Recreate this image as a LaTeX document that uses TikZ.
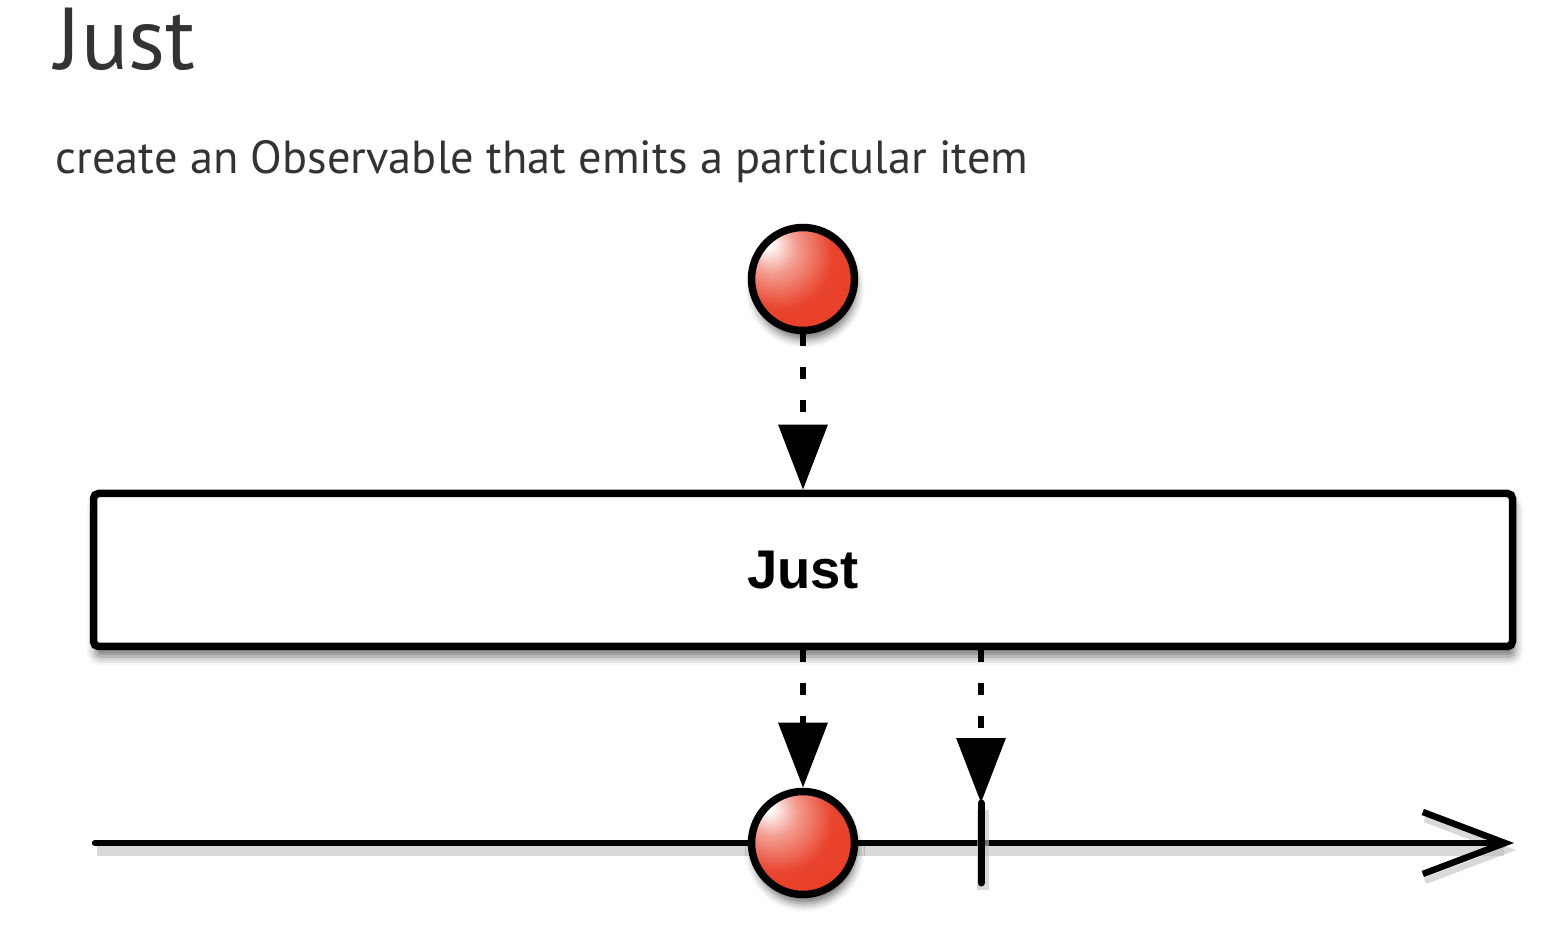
\documentclass[tikz,border=0pt]{standalone}
\usepackage{fontspec}
\setmainfont{PT Sans}
\newfontfamily\opfont{Liberation Sans}
\usepackage{xcolor}
\usetikzlibrary{arrows.meta,positioning,calc,shadows.blur}
\definecolor{ballred}{RGB}{232,58,34}
\definecolor{txtgray}{RGB}{51,51,51}
\pgfdeclareradialshading{marble}{\pgfpoint{-18bp}{18bp}}{%
  color(0bp)=(white); color(2bp)=(white); color(12bp)=(ballred!50!white);
  color(26bp)=(ballred!95!white); color(48bp)=(ballred); color(62bp)=(ballred!80!black); color(74bp)=(ballred!45!black)}

\begin{document}
\begin{tikzpicture}[>=Latex,
  item/.style={circle, draw=black, line width=0.075cm, minimum size=1.03cm, inner sep=0pt,
    shading=marble,
    blur shadow={shadow xshift=0.02cm, shadow yshift=-0.09cm, shadow blur radius=0.08cm, shadow opacity=55}},
  emit/.style={line width=0.065cm, dash pattern=on 0.12cm off 0.21cm,
    -{Triangle[length=0.65cm,width=0.48cm]}},
  lineshadow/.style={preaction={draw=black!25, line width=0.12cm, opacity=0.6,
    transform canvas={xshift=0.02cm,yshift=-0.07cm}}}
]
\useasboundingbox (0,0) rectangle (15.64,9.32);

% title and caption
\node[anchor=base west, inner sep=0pt, text=txtgray, font=\fontsize{25}{28}\selectfont] (title) at (0.55,8.62) {Just};
\node[anchor=base west, inner sep=0pt, text=txtgray, font=\fontsize{13.2}{16}\selectfont] (caption) at (0.55,7.58)
    {create an Observable that emits a particular item};

% operator box
\node[draw, line width=0.075cm, rounded corners=0.05cm, fill=white, minimum width=14.19cm, minimum height=1.53cm,
    blur shadow={shadow xshift=0.02cm, shadow yshift=-0.1cm, shadow blur radius=0.09cm, shadow opacity=55},
    font=\opfont\bfseries\fontsize{15.5}{18}\selectfont] (opbox) at (8.03,3.62) {Just};

% time line
\coordinate (tlstart) at (0.95,0.89);
\coordinate (tlend) at (15.14,0.89);
\draw[line width=0.065cm, line cap=round, lineshadow,
    -{Straight Barb[length=0.82cm,width=0.62cm,line width=0.065cm]}] (tlstart) -- (tlend);

% completion tick
\coordinate (tickT) at (9.81,1.29);
\coordinate (tickB) at (9.81,0.49);
\draw[line width=0.07cm, line cap=round, lineshadow] (tickT) -- (tickB);

% items
\node[item] (ballin) at (8.03,6.53) {};
\node[item] (ballout) at (8.03,0.89) {};

% emissions
\draw[emit] (ballin.south) -- (opbox.north);
\draw[emit] (opbox.south) -- (ballout.north);
\draw[emit] (opbox.south -| tickT) -- (tickT);
\end{tikzpicture}
\end{document}
